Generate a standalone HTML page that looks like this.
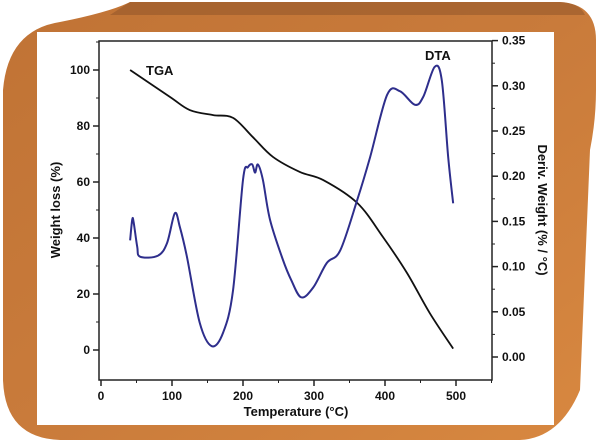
<!DOCTYPE html>
<html><head><meta charset="utf-8"><style>
body{margin:0;background:#fff;}
svg{display:block;font-family:"Liberation Sans",Arial,sans-serif;}
</style></head><body>
<svg id="c" width="600" height="444" viewBox="0 0 600 444">
<defs><linearGradient id="g" x1="0" y1="0" x2="1" y2="1"><stop offset="0" stop-color="#c07335"/><stop offset="0.5" stop-color="#c97b3b"/><stop offset="1" stop-color="#d88840"/></linearGradient></defs>
<path d="M60,22 Q110,12 130,2 L560,2 Q596,4 596,40 L596,90 Q596,120 590,150 L580,390 Q560,438 520,440 L60,440 Q5,438 3,380 L3,90 Q8,30 60,22 Z" fill="url(#g)"/>
<path d="M130,2 L560,2 Q580,3 585,15 L110,15 Z" fill="#8c5228" opacity="0.5"/>
<rect x="37" y="32" width="517" height="393" fill="#fff"/>
<g id="plot"></g>
</svg>
<script>
const tgaTemp=[41,97,125,158,186,214,242,280,313,361,397,431,463,496];
const tgaWeight=[100,90.4,85.7,83.9,82.9,76,69,63.6,60.7,52.5,40.4,27.5,13.2,0.5];
const dtaTemp=[41,44,46,51,55,80,93,104,111,121,139,156,172,186,200,207,213,217,221,228,238,256,268,282,299,318,337,361,379,403,421,442,454,470,480,489,496];
const dtaValue=[0.129,0.152,0.149,0.122,0.111,0.112,0.126,0.159,0.144,0.111,0.038,0.012,0.027,0.074,0.196,0.210,0.213,0.204,0.213,0.196,0.152,0.108,0.085,0.066,0.077,0.104,0.118,0.174,0.221,0.290,0.294,0.279,0.288,0.321,0.306,0.221,0.170];
const xTicks=[0,100,200,300,400,500];
const yLeftTicks=[0,20,40,60,80,100];
const yRightTicks=[0.00,0.05,0.10,0.15,0.20,0.25,0.30,0.35];

const L=99,R=492,T=41,B=380;
const x=t=>101+t*0.71;
const yL=w=>350-w*2.8;
const yR=v=>357-v*904;
const g=document.getElementById('plot');
const NS='http://www.w3.org/2000/svg';
function mk(tag,at,txt){const e=document.createElementNS(NS,tag);for(const k in at)e.setAttribute(k,at[k]);if(txt!==undefined)e.textContent=txt;g.appendChild(e);return e;}
function smooth(pts){let d=`M${pts[0][0]},${pts[0][1]}`;for(let i=0;i<pts.length-1;i++){const p0=pts[i-1]||pts[i],p1=pts[i],p2=pts[i+1],p3=pts[i+2]||p2;const c1=[p1[0]+(p2[0]-p0[0])/6,p1[1]+(p2[1]-p0[1])/6],c2=[p2[0]-(p3[0]-p1[0])/6,p2[1]-(p3[1]-p1[1])/6];d+=` C${c1[0]},${c1[1]} ${c2[0]},${c2[1]} ${p2[0]},${p2[1]}`;}return d;}

let fr=mk('rect',{x:L,y:T,width:R-L,height:B-T,fill:'none',stroke:'#222','stroke-width':1.5});

xTicks.forEach((t,i)=>{
  let l=mk('line',{x1:x(t),x2:x(t),y1:B,y2:B+6,stroke:'#222','stroke-width':1.5});
  
  let m=mk('line',{x1:x(t+50),x2:x(t+50),y1:B,y2:B+3,stroke:'#222'});
  
  let tx=mk('text',{x:x(t),y:B+20,'text-anchor':'middle','font-size':12,'font-weight':'bold',fill:'#111'},t);
  
});
yLeftTicks.forEach(w=>{
  let l=mk('line',{x1:L-6,x2:L,y1:yL(w),y2:yL(w),stroke:'#222','stroke-width':1.5});
  
  let m=mk('line',{x1:L-3,x2:L,y1:yL(w+10),y2:yL(w+10),stroke:'#222'});
  
  let tx=mk('text',{x:L-9,y:yL(w)+4,'text-anchor':'end','font-size':12,'font-weight':'bold',fill:'#111'},w);
  
});
yRightTicks.forEach(v=>{
  let l=mk('line',{x1:R,x2:R+6,y1:yR(v),y2:yR(v),stroke:'#222','stroke-width':1.5});
  
  if(v<0.35){let m=mk('line',{x1:R,x2:R+3,y1:yR(v+0.025),y2:yR(v+0.025),stroke:'#222'});
  }
  let tx=mk('text',{x:R+10,y:yR(v)+4,'font-size':12,'font-weight':'bold',fill:'#111'},v.toFixed(2));
  
});
let xt=mk('text',{x:296,y:416,'text-anchor':'middle','font-size':13,'font-weight':'bold',fill:'#111'},'Temperature (°C)');

let yt=mk('text',{x:0,y:0,transform:'translate(60,210) rotate(-90)','text-anchor':'middle','font-size':13,'font-weight':'bold',fill:'#111'},'Weight loss (%)');

let yt2=mk('text',{x:0,y:0,transform:'translate(538,210) rotate(90)','text-anchor':'middle','font-size':13,'font-weight':'bold',fill:'#111'},'Deriv. Weight (% / °C)');


let tga=mk('path',{d:smooth(tgaTemp.map((t,i)=>[x(t),yL(tgaWeight[i])])),fill:'none',stroke:'#111','stroke-width':1.8});

let dta=mk('path',{d:smooth(dtaTemp.map((t,i)=>[x(t),yR(dtaValue[i])])),fill:'none',stroke:'#2e2e8c','stroke-width':2});

let l1=mk('text',{x:146,y:75,'font-size':13,'font-weight':'bold',fill:'#111'},'TGA');

let l2=mk('text',{x:425,y:60,'font-size':13,'font-weight':'bold',fill:'#111'},'DTA');

</script>
</body></html>
